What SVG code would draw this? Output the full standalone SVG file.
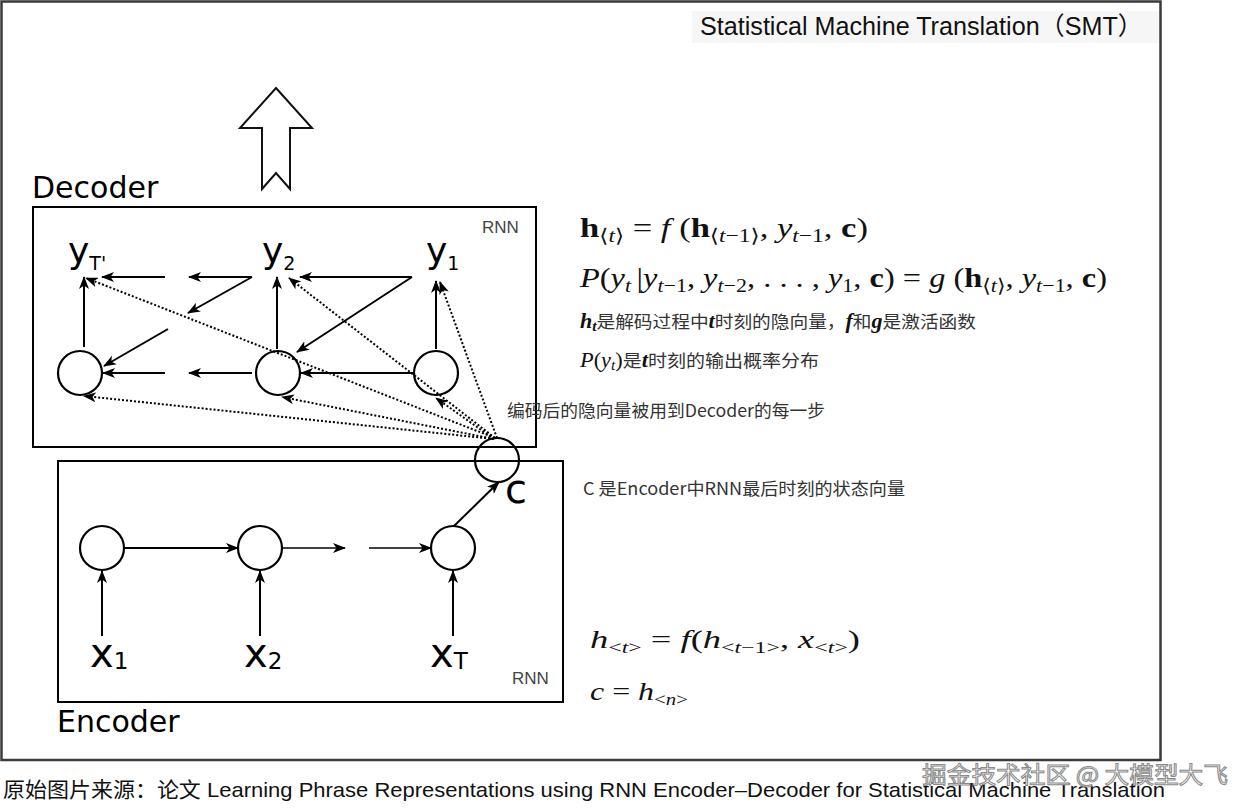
<svg xmlns="http://www.w3.org/2000/svg" width="1252" height="812" viewBox="0 0 1252 812">
<defs>
<marker id="ah" markerUnits="userSpaceOnUse" markerWidth="14" markerHeight="10" refX="12" refY="5" orient="auto"><path d="M0,0 L13,5 L0,10 L3.5,5 z" fill="#000"/></marker>
</defs>
<style>
.lbl{font-family:"DejaVu Sans",sans-serif;fill:#000}
.rnn{font-family:"Liberation Sans",sans-serif;font-size:17px;fill:#444}
.box{fill:none;stroke:#000;stroke-width:2}
.node{fill:none;stroke:#000;stroke-width:2.2}
.solid{stroke:#000;stroke-width:2;fill:none;marker-end:url(#ah)}
.thin{stroke:#000;stroke-width:1.5;fill:none;marker-end:url(#ah)}
.dot{stroke:#000;stroke-width:2;stroke-dasharray:2 2;fill:none;marker-end:url(#ah)}
.m{font-family:"Liberation Serif","DejaVu Serif",serif;fill:#111}
.cn{font-family:"Noto Sans CJK SC",sans-serif;fill:#333}
.b{font-weight:bold}
.i{font-style:italic}
</style>
<rect x="0" y="0" width="1252" height="812" fill="#fff"/>
<rect id="frame" x="1.5" y="1.5" width="1159" height="758.5" fill="none" stroke="#3a3a3a" stroke-width="2.5"/>

<g id="title">
<rect x="692" y="11" width="467" height="32" fill="#f6f6f6"/>
<text x="700" y="35" font-family="'Liberation Sans','Noto Sans CJK SC',sans-serif" font-size="25" fill="#111" textLength="443" lengthAdjust="spacingAndGlyphs">Statistical Machine Translation（SMT）</text>
</g>

<g id="output-arrow">
<polygon points="276,88 312,128 290,128 290,189 276,173 262,189 262,128 240,128" fill="#fff" stroke="#111" stroke-width="2"/>
</g>

<g id="decoder">
<text class="lbl" x="32" y="198" font-size="30">Decoder</text>
<rect class="box" x="33" y="207" width="503" height="240"/>
<text class="rnn" x="482" y="233">RNN</text>
</g>

<g id="encoder">
<rect class="box" x="58" y="461" width="505" height="241"/>
<text class="rnn" x="512" y="684">RNN</text>
<text class="lbl" x="57" y="732" font-size="30">Encoder</text>
</g>

<g id="y-labels">
<text class="lbl" x="68" y="263" font-size="36">y<tspan font-size="19" dy="7">T'</tspan></text>
<text class="lbl" x="262" y="263" font-size="36">y<tspan font-size="19" dy="7">2</tspan></text>
<text class="lbl" x="426" y="263" font-size="36">y<tspan font-size="19" dy="7">1</tspan></text>
</g>

<g id="dec-h1"><circle class="node" cx="80" cy="373" r="22"/></g>
<g id="dec-h2"><circle class="node" cx="278" cy="373" r="22"/></g>
<g id="dec-h3"><circle class="node" cx="436" cy="373" r="22"/></g>

<g id="c-node">
<circle class="node" cx="497" cy="460" r="22"/>
<text class="lbl" x="505" y="503" font-size="40">c</text>
</g>

<g id="enc-h1"><circle class="node" cx="102" cy="548" r="22"/></g>
<g id="enc-h2"><circle class="node" cx="260" cy="548" r="22"/></g>
<g id="enc-h3"><circle class="node" cx="453" cy="548" r="22"/></g>

<g id="x-labels">
<text class="lbl" x="90" y="667" font-size="40">x<tspan font-size="23" dy="2">1</tspan></text>
<text class="lbl" x="244" y="667" font-size="40">x<tspan font-size="23" dy="2">2</tspan></text>
<text class="lbl" x="430" y="667" font-size="40">x<tspan font-size="23" dy="2">T</tspan></text>
</g>

<g id="connectors">
<line class="solid" x1="84" y1="347" x2="84" y2="277"/>
<line class="solid" x1="277" y1="349" x2="277" y2="277"/>
<line class="solid" x1="436" y1="349" x2="436" y2="281"/>
<line class="solid" x1="412" y1="277" x2="300" y2="277"/>
<line class="solid" x1="412" y1="277" x2="297" y2="352"/>
<line class="solid" x1="252" y1="277" x2="189" y2="277"/>
<line class="solid" x1="252" y1="277" x2="188" y2="313"/>
<line class="solid" x1="165" y1="277" x2="102" y2="277"/>
<line class="solid" x1="168" y1="329" x2="104" y2="366"/>
<line class="solid" x1="414" y1="373" x2="301" y2="373"/>
<line class="solid" x1="252" y1="373" x2="189" y2="373"/>
<line class="solid" x1="165" y1="373" x2="103" y2="373"/>
<line class="dot" x1="495" y1="438" x2="86" y2="278"/>
<line class="dot" x1="495" y1="438" x2="289" y2="278"/>
<line class="dot" x1="497" y1="438" x2="440" y2="282"/>
<line class="dot" x1="494" y1="439" x2="84" y2="396"/>
<line class="dot" x1="494" y1="439" x2="282" y2="397"/>
<line class="dot" x1="494" y1="439" x2="436" y2="398"/>
<line class="solid" x1="124" y1="548" x2="238" y2="548" stroke-width="2.5"/>
<line class="thin" x1="282" y1="548" x2="345" y2="548"/>
<line class="thin" x1="369" y1="548" x2="431" y2="548"/>
<line class="solid" x1="454" y1="526" x2="499" y2="482"/>
<line class="solid" x1="102" y1="636" x2="102" y2="571"/>
<line class="solid" x1="260" y1="636" x2="260" y2="571"/>
<line class="solid" x1="453" y1="636" x2="453" y2="571"/>
</g>

<g id="notes">
<text class="cn" x="507" y="417" font-size="17" textLength="318" lengthAdjust="spacingAndGlyphs">编码后的隐向量被用到Decoder的每一步</text>
<text class="cn" x="583" y="495" font-size="17" textLength="322" lengthAdjust="spacingAndGlyphs">C 是Encoder中RNN最后时刻的状态向量</text>
</g>

<g id="decoder-formulas">
<text class="m" x="580" y="237" font-size="28" textLength="288" lengthAdjust="spacingAndGlyphs"><tspan class="b">h</tspan><tspan font-size="19" dy="5">⟨<tspan class="i">t</tspan>⟩</tspan><tspan dy="-5"> = </tspan><tspan class="i">f</tspan> (<tspan class="b">h</tspan><tspan font-size="19" dy="5">⟨<tspan class="i">t</tspan>−1⟩</tspan><tspan dy="-5">, </tspan><tspan class="i">y</tspan><tspan font-size="19" dy="5"><tspan class="i">t</tspan>−1</tspan><tspan dy="-5">, </tspan><tspan class="b">c</tspan>)</text>
<text class="m" x="580" y="287" font-size="28" textLength="527" lengthAdjust="spacingAndGlyphs"><tspan class="i">P</tspan>(<tspan class="i">y</tspan><tspan font-size="19" dy="5" class="i">t </tspan><tspan dy="-5">|</tspan><tspan class="i">y</tspan><tspan font-size="19" dy="5"><tspan class="i">t</tspan>−1</tspan><tspan dy="-5">, </tspan><tspan class="i">y</tspan><tspan font-size="19" dy="5"><tspan class="i">t</tspan>−2</tspan><tspan dy="-5">, . . . , </tspan><tspan class="i">y</tspan><tspan font-size="19" dy="5">1</tspan><tspan dy="-5">, </tspan><tspan class="b">c</tspan>) = <tspan class="i">g</tspan> (<tspan class="b">h</tspan><tspan font-size="19" dy="5">⟨<tspan class="i">t</tspan>⟩</tspan><tspan dy="-5">, </tspan><tspan class="i">y</tspan><tspan font-size="19" dy="5"><tspan class="i">t</tspan>−1</tspan><tspan dy="-5">, </tspan><tspan class="b">c</tspan>)</text>
<text x="580" y="328" font-size="17" textLength="396" lengthAdjust="spacingAndGlyphs" class="cn"><tspan class="m b i" font-size="20">h</tspan><tspan class="m b i" font-size="14" dy="3">t</tspan><tspan dy="-3">是解码过程中</tspan><tspan class="m b i" font-size="20">t</tspan>时刻的隐向量，<tspan class="m b i" font-size="20">f</tspan>和<tspan class="m b i" font-size="20">g</tspan>是激活函数</text>
<text x="580" y="367" font-size="17" textLength="239" lengthAdjust="spacingAndGlyphs" class="cn"><tspan class="m i" font-size="20">P</tspan><tspan class="m" font-size="20">(</tspan><tspan class="m i" font-size="20">y</tspan><tspan class="m i" font-size="14" dy="3">t</tspan><tspan class="m" font-size="20" dy="-3">)</tspan>是<tspan class="m b i" font-size="20">t</tspan>时刻的输出概率分布</text>
</g>

<g id="encoder-formulas">
<text class="m" x="590" y="648" font-size="26" textLength="270" lengthAdjust="spacingAndGlyphs"><tspan class="i">h</tspan><tspan font-size="17" dy="5">&lt;<tspan class="i">t</tspan>&gt;</tspan><tspan dy="-5"> = </tspan><tspan class="i">f</tspan>(<tspan class="i">h</tspan><tspan font-size="17" dy="5">&lt;<tspan class="i">t</tspan>−1&gt;</tspan><tspan dy="-5">, </tspan><tspan class="i">x</tspan><tspan font-size="17" dy="5">&lt;<tspan class="i">t</tspan>&gt;</tspan><tspan dy="-5">)</tspan></text>
<text class="m" x="590" y="700" font-size="26" textLength="98" lengthAdjust="spacingAndGlyphs"><tspan class="i">c</tspan> = <tspan class="i">h</tspan><tspan font-size="17" dy="5">&lt;<tspan class="i">n</tspan>&gt;</tspan></text>
</g>

<g id="caption">
<text x="3" y="797" font-family="'Liberation Sans','Noto Sans CJK SC',sans-serif" font-size="21" fill="#111" textLength="1162" lengthAdjust="spacingAndGlyphs">原始图片来源：论文 Learning Phrase Representations using RNN Encoder–Decoder for Statistical Machine Translation</text>
<text x="922" y="783" font-family="'Noto Sans CJK SC',sans-serif" font-size="23" fill="#fff" fill-opacity="0.85" stroke="#8a8a8a" stroke-width="1" textLength="306" lengthAdjust="spacingAndGlyphs">掘金技术社区 @ 大模型大飞</text>
</g>
</svg>
